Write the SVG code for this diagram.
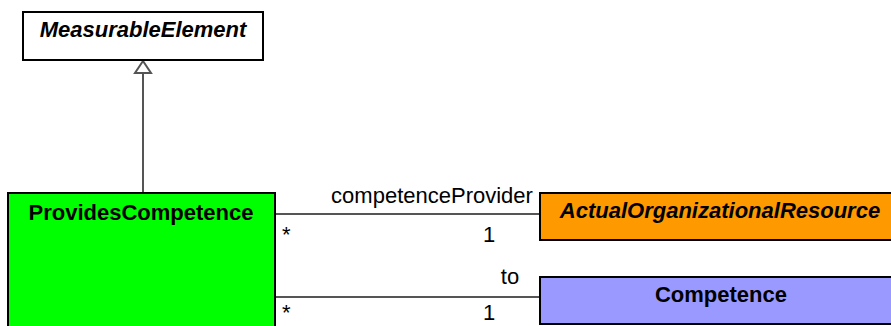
<svg xmlns="http://www.w3.org/2000/svg" width="891" height="326" viewBox="0 0 891 326">
<style>
.box{stroke:#000;stroke-width:2}
.cls{font-family:"Liberation Sans",Arial,sans-serif;font-size:22px;font-weight:bold;text-anchor:middle;fill:#000}
.abs{font-style:italic}
.lbl{font-family:"Liberation Sans",Arial,sans-serif;font-size:22px;fill:#000}
.conn{stroke:#555;stroke-width:2;fill:none}
.head{fill:#fff;stroke:#555;stroke-width:2}
</style>
<rect width="891" height="326" fill="#fff"/>
<g id="connectors">
<line class="conn" x1="143" y1="193" x2="143" y2="73"/>
<polygon class="head" points="143,61 135,73 151,73"/>
<line class="conn" x1="275" y1="214" x2="540" y2="214"/>
<line class="conn" x1="275" y1="297" x2="540" y2="297"/>
<text class="lbl" x="432" y="203" text-anchor="middle">competenceProvider</text>
<text class="lbl" x="282" y="242">*</text>
<text class="lbl" x="489" y="242" text-anchor="middle">1</text>
<text class="lbl" x="510" y="284" text-anchor="middle">to</text>
<text class="lbl" x="282" y="320">*</text>
<text class="lbl" x="489" y="320" text-anchor="middle">1</text>
</g>
<g id="MeasurableElement">
<rect class="box" x="23" y="12" width="240" height="48" fill="#fff"/>
<text class="cls abs" x="143" y="37">MeasurableElement</text>
</g>
<g id="ProvidesCompetence">
<rect class="box" x="8" y="193" width="267" height="145" fill="#00ff00"/>
<text class="cls" x="141" y="220">ProvidesCompetence</text>
</g>
<g id="ActualOrganizationalResource">
<rect class="box" x="540" y="193" width="360" height="47" fill="#ff9900"/>
<text class="cls abs" x="720" y="218">ActualOrganizationalResource</text>
</g>
<g id="Competence">
<rect class="box" x="540" y="277" width="360" height="47" fill="#9999ff"/>
<text class="cls" x="721" y="302">Competence</text>
</g>
</svg>
